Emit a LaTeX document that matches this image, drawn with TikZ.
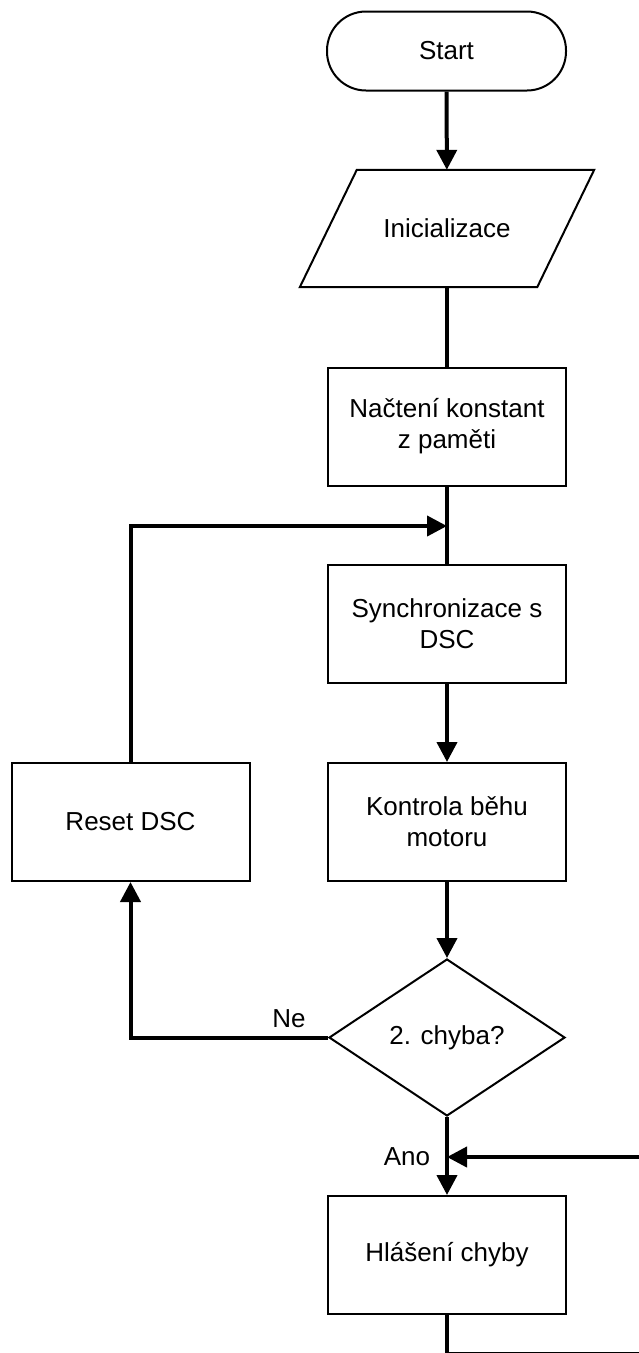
\documentclass[tikz,border=0pt]{standalone}
\usepackage{fontspec}
\setmainfont{Liberation Sans}
\usetikzlibrary{shapes.geometric,arrows.meta}
\begin{document}
\begin{tikzpicture}[x=1pt,y=-1pt,
  every node/.style={font=\fontsize{26}{31}\selectfont, align=center, inner sep=0pt},
  box/.style={draw, line width=2pt, minimum width=238pt, minimum height=118pt},
  term/.style={draw, line width=2pt, rounded corners=39pt, minimum width=239pt, minimum height=79pt},
  iobody/.style={minimum width=237pt, minimum height=117pt},
  decision/.style={draw, line width=2pt, diamond, aspect=1.5, minimum width=236pt, minimum height=157pt},
  flow/.style={line width=4pt, -{Triangle[length=20pt,width=20pt]}},
  link/.style={line width=4pt},
  outline/.style={line width=2pt, line join=miter},
  lbl/.style={anchor=base},
]
\useasboundingbox (0,0) rectangle (639,1353);
\clip (0,0) rectangle (639,1353);

% main column
\node[term] (start) at (446.5,51) {Start};
\node[iobody] (init) at (447,228.5) {Inicializace};
\draw[outline] ([xshift=28.5pt]init.north west) -- ([xshift=28.5pt]init.north east)
  -- ([xshift=-28.5pt]init.south east) -- ([xshift=-28.5pt]init.south west) -- cycle;
\node[box] (n1) at (447,426.5) {Načtení konstant\\z paměti};
\node[box] (n2) at (447,624) {Synchronizace s\\DSC};
\node[box] (n3) at (447,822) {Kontrola běhu\\motoru};
\node[decision] (dec) at (447,1037.5) {2. chyba?};
\node[box] (err) at (447,1255) {Hlášení chyby};

% side branch
\node[box] (reset) at (130.5,822) {Reset DSC};

% junctions and free ends
\coordinate (join) at (447,526);
\coordinate (anojoin) at (447,1157);
\coordinate (back) at (660,1157);
\coordinate (out1) at (447,1353.5);
\coordinate (out2) at (660,1353.5);

% connectors
\draw[flow] (start) -- (init);
\draw[link] (init) -- (n1);
\draw[link] (n1) -- (n2);
\draw[flow] (reset.north) |- (join);
\draw[flow] (n2) -- (n3);
\draw[flow] (n3) -- (dec);
\draw[flow] (dec.west) -| (reset.south);
\draw[flow] (dec) -- (err);
\draw[flow] (back) -- (anojoin);
\draw[link] (err) -- (out1) -- (out2);

% branch labels
\node[lbl] (ne) at (289,1027) {Ne};
\node[lbl] (ano) at (407,1165) {Ano};
\end{tikzpicture}
\end{document}
